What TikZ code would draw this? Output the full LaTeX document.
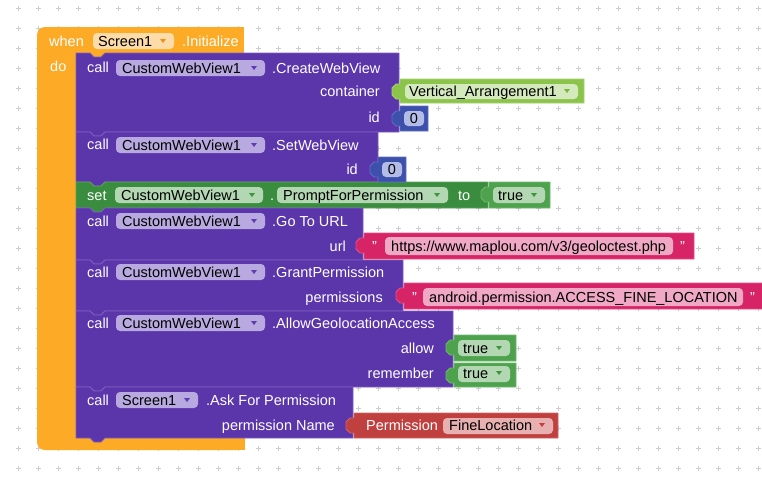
\documentclass[tikz,border=0pt]{standalone}
\usepackage{fontspec}
\setmainfont{Liberation Sans}
\definecolor{evO}{RGB}{253,171,38}
\definecolor{evL}{RGB}{255,200,110}
\definecolor{evP}{RGB}{254,220,170}
\definecolor{evA}{RGB}{235,145,25}
\definecolor{pu}{RGB}{91,53,170}
\definecolor{puL}{RGB}{125,95,195}
\definecolor{puP}{RGB}{184,170,224}
\definecolor{puA}{RGB}{95,60,175}
\definecolor{cg}{RGB}{140,195,75}
\definecolor{cgL}{RGB}{165,212,110}
\definecolor{cgP}{RGB}{212,234,188}
\definecolor{cgA}{RGB}{120,180,60}
\definecolor{mb}{RGB}{60,80,172}
\definecolor{mbL}{RGB}{95,112,195}
\definecolor{mbP}{RGB}{178,188,230}
\definecolor{sg}{RGB}{58,140,62}
\definecolor{sgL}{RGB}{90,165,90}
\definecolor{sgP}{RGB}{178,215,178}
\definecolor{sgA}{RGB}{60,150,60}
\definecolor{lg}{RGB}{78,162,78}
\definecolor{lgL}{RGB}{110,185,110}
\definecolor{tp}{RGB}{214,36,103}
\definecolor{tpL}{RGB}{230,80,135}
\definecolor{tpP}{RGB}{240,168,196}
\definecolor{rd}{RGB}{192,64,64}
\definecolor{rdL}{RGB}{210,100,100}
\definecolor{rdP}{RGB}{232,176,176}
\definecolor{rdA}{RGB}{200,60,60}
\definecolor{gridc}{RGB}{205,205,205}
\tikzset{
  lbl/.style={text=white, font=\fontsize{14.5}{17}\selectfont, inner sep=0pt, anchor=base west},
  lblr/.style={lbl, anchor=base east},
  ptxt/.style={lbl, text=black},
  ctxt/.style={ptxt, anchor=base},
  stpu/.style={fill=pu, draw=puL, line width=0.8pt},
  stsg/.style={fill=sg, draw=sgL, line width=0.8pt},
  vcg/.style={fill=cg, draw=cgL, line width=0.8pt},
  vmb/.style={fill=mb, draw=mbL, line width=0.8pt},
  vlg/.style={fill=lg, draw=lgL, line width=0.8pt},
  vtp/.style={fill=tp, draw=tpL, line width=0.8pt},
  vrd/.style={fill=rd, draw=rdL, line width=0.8pt},
  pillshape/.style={rounded corners=4pt},
}
% statement block: style, y0, x1, y1
\newcommand\stmtblk[4]{%
  \filldraw[#1] (76,#2) -- (90,#2) -- (94,#2+4) -- (101,#2+4) -- (105,#2) -- (#3,#2) -- (#3,#4) -- (105,#4) -- (101,#4+4) -- (94,#4+4) -- (90,#4) -- (76,#4) -- cycle;}
% value block: style, x0, y0, x1, y1
\newcommand\valblk[5]{%
  \filldraw[#1] (#2,#3) -- (#4,#3) -- (#4,#5) -- (#2,#5) -- (#2,#3+20) -- (#2-4,#3+20) -- (#2-8,#3+16) -- (#2-8,#3+9) -- (#2-4,#3+5) -- (#2,#3+5) -- cycle;}
% pill: colour, x0, y0, x1, y1
\newcommand\pillbox[5]{\fill[#1, pillshape] (#2,#3) rectangle (#4,#5);}
% dropdown arrow: colour, x, y
\newcommand\ddarr[3]{\fill[#1] (#2-3,#3-2) -- (#2+3,#3-2) -- (#2,#3+2) -- cycle;}
\begin{document}
\begin{tikzpicture}[x=1pt,y=-1pt]
\useasboundingbox (0,0) rectangle (762,480);
\fill[white] (0,0) rectangle (762,480);
% grid
\foreach \x in {18,38,...,758} {
  \foreach \y in {8,28,...,468} {
    \draw[gridc, line width=0.8pt] (\x-2.5,\y) -- (\x+2.5,\y) (\x,\y-2.5) -- (\x,\y+2.5);
  }
}
% event block
\fill[evO, rounded corners=8pt] (37,27) rectangle (245,450);
\fill[evO] (200,27) rectangle (244,53);
\fill[evO] (200,437) rectangle (245,450);
\fill[white] (244,27) rectangle (246,53);
\node[lbl] (when) at (49,46) {when};
\pillbox{evP}{93}{33}{174}{49}
\node[ptxt] (scr) at (98,46) {Screen1};
\ddarr{evA}{163}{41}
\node[lbl] (init) at (182,46) {.Initialize};
\node[lbl] (do) at (50,71) {do};

% B1 CreateWebView
\stmtblk{stpu}{53}{399}{132}
\node[lbl] (c1) at (87,72) {call};
\pillbox{puP}{116}{60}{265}{76}
\node[ptxt] (w1) at (122,73) {CustomWebView1};
\ddarr{puA}{254}{68}
\node[lbl] (m1) at (272,73) {.CreateWebView};
\node[lblr] (cont) at (380,96) {container};
\node[lblr] (id1) at (380,122) {id};

% B2 SetWebView
\stmtblk{stpu}{132}{378}{182}
\node[lbl] (c2) at (87,149) {call};
\pillbox{puP}{116}{137}{265}{153}
\node[ptxt] (w2) at (122,150) {CustomWebView1};
\ddarr{puA}{254}{145}
\node[lbl] (m2) at (272,150) {.SetWebView};
\node[lblr] (id2) at (358,174) {id};

% B3 set
\stmtblk{stsg}{182}{488}{208}
\node[lbl] (s3) at (87,200) {set};
\pillbox{sgP}{115}{187}{263}{203}
\node[ptxt] (w3) at (121,200) {CustomWebView1};
\ddarr{sgA}{252}{195}
\node[lbl] (dot3) at (270,200) {.};
\pillbox{sgP}{277}{187}{448}{203}
\node[ptxt] (pp3) at (283,200) {PromptForPermission};
\ddarr{sgA}{437}{195}
\node[lbl] (to3) at (458,200) {to};

% B4 Go To URL
\stmtblk{stpu}{208}{363}{260}
\node[lbl] (c4) at (87,226) {call};
\pillbox{puP}{116}{213}{265}{229}
\node[ptxt] (w4) at (122,226) {CustomWebView1};
\ddarr{puA}{254}{221}
\node[lbl] (m4) at (272,226) {.Go To URL};
\node[lblr] (url) at (346,251) {url};

% B5 GrantPermission
\stmtblk{stpu}{260}{403}{311}
\node[lbl] (c5) at (87,277) {call};
\pillbox{puP}{116}{264}{265}{280}
\node[ptxt] (w5) at (122,277) {CustomWebView1};
\ddarr{puA}{254}{272}
\node[lbl] (m5) at (272,277) {.GrantPermission};
\node[lblr] (perm) at (383,302) {permissions};

% B6 AllowGeolocationAccess
\stmtblk{stpu}{311}{453}{387}
\node[lbl] (c6) at (87,328) {call};
\pillbox{puP}{116}{315}{265}{331}
\node[ptxt] (w6) at (122,328) {CustomWebView1};
\ddarr{puA}{254}{323}
\node[lbl] (m6) at (272,328) {.AllowGeolocationAccess};
\node[lblr] (allow) at (434,353) {allow};
\node[lblr] (rem) at (434,378) {remember};

% B7 Ask For Permission
\stmtblk{stpu}{387}{353}{438}
\node[lbl] (c7) at (87,405) {call};
\pillbox{puP}{116}{392}{198}{408}
\node[ptxt] (sc7) at (122,405) {Screen1};
\ddarr{puA}{187}{400}
\node[lbl] (m7) at (206,405) {.Ask For Permission};
\node[lblr] (pname) at (335,430) {permission Name};

% value blocks
\valblk{vcg}{400}{79}{584}{103}
\pillbox{cgP}{405}{84}{578}{99}
\node[ptxt] (va) at (409,96) {Vertical\_Arrangement1};
\ddarr{cgA}{567}{91}

\valblk{vmb}{400}{106}{428}{131}
\pillbox{mbP}{404}{111}{424}{126}
\node[ctxt] (n1) at (414,123) {0};

\valblk{vmb}{378}{157}{406}{182}
\pillbox{mbP}{382}{162}{402}{177}
\node[ctxt] (n2) at (392,174) {0};

\valblk{vlg}{489}{182}{550}{208}
\pillbox{sgP}{493}{187}{545}{203}
\node[ptxt] (t3) at (498,200) {true};
\ddarr{sgA}{534}{195}

\valblk{vtp}{364}{233}{694}{259}
\node[lbl] (q1a) at (372,251) {"};
\pillbox{tpP}{385}{237}{673}{255}
\node[ptxt] (urltxt) at (391,251) {https://www.maplou.com/v3/geoloctest.php};
\node[lbl] (q1b) at (680,251) {"};

\valblk{vtp}{404}{283}{763}{309}
\node[lbl] (q2a) at (412,302) {"};
\pillbox{tpP}{423}{288}{743}{306}
\node[ptxt] (permtxt) at (429,302) {android.permission.ACCESS\_FINE\_LOCATION};
\node[lbl] (q2b) at (750,302) {"};

\valblk{vlg}{454}{335}{516}{361}
\pillbox{sgP}{458}{340}{510}{356}
\node[ptxt] (t6a) at (463,353) {true};
\ddarr{sgA}{499}{348}

\valblk{vlg}{454}{363}{516}{387}
\pillbox{sgP}{458}{366}{510}{382}
\node[ptxt] (t6b) at (463,378) {true};
\ddarr{sgA}{499}{373}

\valblk{vrd}{354}{413}{558}{438}
\node[lbl] (ptype) at (366,430) {Permission};
\pillbox{rdP}{443}{418}{553}{434}
\node[ptxt] (fine) at (449,430) {FineLocation};
\ddarr{rdA}{542}{425}
\end{tikzpicture}
\end{document}
